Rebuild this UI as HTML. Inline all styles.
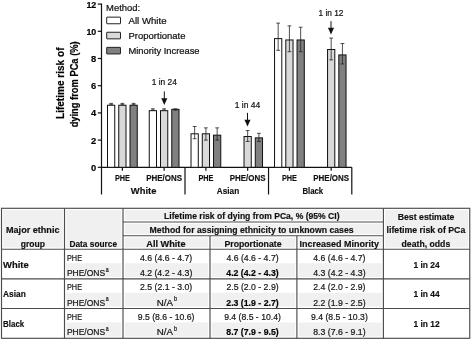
<!DOCTYPE html>
<html><head><meta charset="utf-8"><title>Figure</title>
<style>
html,body{margin:0;padding:0;background:#fff;}
body{width:472px;height:340px;overflow:hidden;}
svg{display:block;will-change:transform;font-family:"Liberation Sans",sans-serif;}
</style></head><body>
<svg width="472" height="340" viewBox="0 0 472 340">
<rect width="472" height="340" fill="#fff"/>
<g stroke="#111" stroke-width="1.2" fill="none">
<line x1="101.5" y1="3.4999999999999996" x2="101.5" y2="194.5"/>
<line x1="101.5" y1="167.3" x2="351.8" y2="167.3"/>
<line x1="97.8" y1="167.3" x2="101.5" y2="167.3"/>
<line x1="97.8" y1="140.1" x2="101.5" y2="140.1"/>
<line x1="97.8" y1="112.9" x2="101.5" y2="112.9"/>
<line x1="97.8" y1="85.7" x2="101.5" y2="85.7"/>
<line x1="97.8" y1="58.5" x2="101.5" y2="58.5"/>
<line x1="97.8" y1="31.3" x2="101.5" y2="31.3"/>
<line x1="97.8" y1="4.1" x2="101.5" y2="4.1"/>
</g>
<text x="96.3" y="170.70000000000002" font-size="9.8" text-anchor="end" font-weight="bold" stroke="#000" stroke-width="0.18" fill="#000" textLength="5.2" lengthAdjust="spacingAndGlyphs">0</text>
<text x="96.3" y="143.5" font-size="9.8" text-anchor="end" font-weight="bold" stroke="#000" stroke-width="0.18" fill="#000" textLength="5.2" lengthAdjust="spacingAndGlyphs">2</text>
<text x="96.3" y="116.30000000000001" font-size="9.8" text-anchor="end" font-weight="bold" stroke="#000" stroke-width="0.18" fill="#000" textLength="5.2" lengthAdjust="spacingAndGlyphs">4</text>
<text x="96.3" y="89.10000000000001" font-size="9.8" text-anchor="end" font-weight="bold" stroke="#000" stroke-width="0.18" fill="#000" textLength="5.2" lengthAdjust="spacingAndGlyphs">6</text>
<text x="96.3" y="61.9" font-size="9.8" text-anchor="end" font-weight="bold" stroke="#000" stroke-width="0.18" fill="#000" textLength="5.2" lengthAdjust="spacingAndGlyphs">8</text>
<text x="96.3" y="34.7" font-size="9.8" text-anchor="end" font-weight="bold" stroke="#000" stroke-width="0.18" fill="#000" textLength="9.9" lengthAdjust="spacingAndGlyphs">10</text>
<text x="96.3" y="7.5" font-size="9.8" text-anchor="end" font-weight="bold" stroke="#000" stroke-width="0.18" fill="#000" textLength="9.9" lengthAdjust="spacingAndGlyphs">12</text>
<rect x="107.5" y="105.24" width="7.25" height="62.06" fill="#ffffff" stroke="#111" stroke-width="1"/>
<path d="M111.12 104.74V103.38M109.22 103.38H113.02000000000001M109.22 104.74H113.02000000000001" stroke="#222" stroke-width="0.8" fill="none"/>
<rect x="118.75" y="105.24" width="7.25" height="62.06" fill="#d9d9d9" stroke="#111" stroke-width="1"/>
<path d="M122.38 104.74V103.38M120.47999999999999 103.38H124.28M120.47999999999999 104.74H124.28" stroke="#222" stroke-width="0.8" fill="none"/>
<rect x="130.0" y="105.24" width="7.25" height="62.06" fill="#808080" stroke="#111" stroke-width="1"/>
<path d="M133.62 104.74V103.38M131.72 103.38H135.52M131.72 104.74H135.52" stroke="#222" stroke-width="0.8" fill="none"/>
<rect x="149.26" y="110.68" width="7.25" height="56.62" fill="#ffffff" stroke="#111" stroke-width="1"/>
<path d="M152.88 110.18V108.82M150.98 108.82H154.78M150.98 110.18H154.78" stroke="#222" stroke-width="0.8" fill="none"/>
<rect x="160.51" y="110.68" width="7.25" height="56.62" fill="#d9d9d9" stroke="#111" stroke-width="1"/>
<path d="M164.13 110.18V108.82M162.23 108.82H166.03M162.23 110.18H166.03" stroke="#222" stroke-width="0.8" fill="none"/>
<rect x="171.76" y="109.32" width="7.25" height="57.98" fill="#808080" stroke="#111" stroke-width="1"/>
<path d="M175.38 110.18V108.82M173.48 108.82H177.28M173.48 110.18H177.28" stroke="#222" stroke-width="0.8" fill="none"/>
<rect x="191.02" y="133.8" width="7.25" height="33.5" fill="#ffffff" stroke="#111" stroke-width="1"/>
<path d="M194.65 138.74V126.5M192.75 126.5H196.55M192.75 138.74H196.55" stroke="#222" stroke-width="0.8" fill="none"/>
<rect x="202.27" y="133.8" width="7.25" height="33.5" fill="#d9d9d9" stroke="#111" stroke-width="1"/>
<path d="M205.9 140.1V127.86M204.0 127.86H207.8M204.0 140.1H207.8" stroke="#222" stroke-width="0.8" fill="none"/>
<rect x="213.52" y="135.16" width="7.25" height="32.14" fill="#808080" stroke="#111" stroke-width="1"/>
<path d="M217.15 140.1V127.86M215.25 127.86H219.05M215.25 140.1H219.05" stroke="#222" stroke-width="0.8" fill="none"/>
<rect x="244.03" y="136.52" width="7.25" height="30.78" fill="#d9d9d9" stroke="#111" stroke-width="1"/>
<path d="M247.66 141.46V130.58M245.76 130.58H249.56M245.76 141.46H249.56" stroke="#222" stroke-width="0.8" fill="none"/>
<rect x="255.28" y="137.88" width="7.25" height="29.42" fill="#808080" stroke="#111" stroke-width="1"/>
<path d="M258.9 141.46V133.3M257.0 133.3H260.79999999999995M257.0 141.46H260.79999999999995" stroke="#222" stroke-width="0.8" fill="none"/>
<rect x="274.54" y="38.6" width="7.25" height="128.7" fill="#ffffff" stroke="#111" stroke-width="1"/>
<path d="M278.17 50.34V23.14M276.27000000000004 23.14H280.07M276.27000000000004 50.34H280.07" stroke="#222" stroke-width="0.8" fill="none"/>
<rect x="285.79" y="39.96" width="7.25" height="127.34" fill="#d9d9d9" stroke="#111" stroke-width="1"/>
<path d="M289.42 51.7V25.86M287.52000000000004 25.86H291.32M287.52000000000004 51.7H291.32" stroke="#222" stroke-width="0.8" fill="none"/>
<rect x="297.04" y="39.96" width="7.25" height="127.34" fill="#808080" stroke="#111" stroke-width="1"/>
<path d="M300.67 51.7V27.22M298.77000000000004 27.22H302.57M298.77000000000004 51.7H302.57" stroke="#222" stroke-width="0.8" fill="none"/>
<rect x="327.55" y="49.48" width="7.25" height="117.82" fill="#d9d9d9" stroke="#111" stroke-width="1"/>
<path d="M331.18 59.86V38.1M329.28000000000003 38.1H333.08M329.28000000000003 59.86H333.08" stroke="#222" stroke-width="0.8" fill="none"/>
<rect x="338.8" y="54.92" width="7.25" height="112.38" fill="#808080" stroke="#111" stroke-width="1"/>
<path d="M342.43 63.94V43.54M340.53000000000003 43.54H344.33M340.53000000000003 63.94H344.33" stroke="#222" stroke-width="0.8" fill="none"/>
<g stroke="#111" stroke-width="1.2" fill="none">
<line x1="122.38" y1="167.3" x2="122.38" y2="170.8"/>
<line x1="164.13" y1="167.3" x2="164.13" y2="170.8"/>
<line x1="205.9" y1="167.3" x2="205.9" y2="170.8"/>
<line x1="247.66" y1="167.3" x2="247.66" y2="170.8"/>
<line x1="289.42" y1="167.3" x2="289.42" y2="170.8"/>
<line x1="331.18" y1="167.3" x2="331.18" y2="170.8"/>
<line x1="185.01" y1="167.3" x2="185.01" y2="194.5"/>
<line x1="268.53" y1="167.3" x2="268.53" y2="194.5"/>
<line x1="351.8" y1="167.3" x2="351.8" y2="194.5"/>
</g>
<text x="122.38" y="181.25" font-size="9.5" text-anchor="middle" font-weight="bold" stroke="#111" stroke-width="0.18" fill="#111" textLength="15" lengthAdjust="spacingAndGlyphs">PHE</text>
<text x="164.13" y="181.25" font-size="9.5" text-anchor="middle" font-weight="bold" stroke="#111" stroke-width="0.18" fill="#111" textLength="35.75" lengthAdjust="spacingAndGlyphs">PHE/ONS</text>
<text x="205.9" y="181.25" font-size="9.5" text-anchor="middle" font-weight="bold" stroke="#111" stroke-width="0.18" fill="#111" textLength="15" lengthAdjust="spacingAndGlyphs">PHE</text>
<text x="247.66" y="181.25" font-size="9.5" text-anchor="middle" font-weight="bold" stroke="#111" stroke-width="0.18" fill="#111" textLength="35.75" lengthAdjust="spacingAndGlyphs">PHE/ONS</text>
<text x="289.42" y="181.25" font-size="9.5" text-anchor="middle" font-weight="bold" stroke="#111" stroke-width="0.18" fill="#111" textLength="15" lengthAdjust="spacingAndGlyphs">PHE</text>
<text x="331.18" y="181.25" font-size="9.5" text-anchor="middle" font-weight="bold" stroke="#111" stroke-width="0.18" fill="#111" textLength="35.75" lengthAdjust="spacingAndGlyphs">PHE/ONS</text>
<text x="143.6" y="193.5" font-size="9.5" text-anchor="middle" font-weight="bold" stroke="#111" stroke-width="0.18" fill="#111" textLength="25.5" lengthAdjust="spacingAndGlyphs">White</text>
<text x="228.0" y="193.5" font-size="9.5" text-anchor="middle" font-weight="bold" stroke="#111" stroke-width="0.18" fill="#111" textLength="22.3" lengthAdjust="spacingAndGlyphs">Asian</text>
<text x="312.8" y="193.5" font-size="9.5" text-anchor="middle" font-weight="bold" stroke="#111" stroke-width="0.18" fill="#111" textLength="20.8" lengthAdjust="spacingAndGlyphs">Black</text>
<text x="0" y="0" font-size="10.4" text-anchor="middle" font-weight="bold" stroke="#000" stroke-width="0.18" fill="#000" textLength="71.5" lengthAdjust="spacingAndGlyphs" transform="translate(63.5 83.25) rotate(-90)">Lifetime risk of</text>
<text x="0" y="0" font-size="10.4" text-anchor="middle" font-weight="bold" stroke="#000" stroke-width="0.18" fill="#000" textLength="86" lengthAdjust="spacingAndGlyphs" transform="translate(77.6 84.35) rotate(-90)">dying from PCa (%)</text>
<text x="106.1" y="10.6" font-size="9.5" text-anchor="start" stroke="#111" stroke-width="0.22" fill="#111" textLength="34" lengthAdjust="spacingAndGlyphs">Method:</text>
<rect x="106.7" y="17.15" width="13.8" height="6.6" rx="0.3" fill="#ffffff" stroke="#222" stroke-width="1"/>
<text x="128.5" y="23.75" font-size="9.5" text-anchor="start" stroke="#111" stroke-width="0.22" fill="#111" textLength="38" lengthAdjust="spacingAndGlyphs">All White</text>
<rect x="106.7" y="32.25" width="13.8" height="6.6" rx="0.3" fill="#d9d9d9" stroke="#222" stroke-width="1"/>
<text x="128.5" y="38.85" font-size="9.5" text-anchor="start" stroke="#111" stroke-width="0.22" fill="#111" textLength="57" lengthAdjust="spacingAndGlyphs">Proportionate</text>
<rect x="106.7" y="47.35" width="13.8" height="6.6" rx="0.3" fill="#808080" stroke="#222" stroke-width="1"/>
<text x="128.5" y="53.95" font-size="9.5" text-anchor="start" stroke="#111" stroke-width="0.22" fill="#111" textLength="71" lengthAdjust="spacingAndGlyphs">Minority Increase</text>
<text x="164.3" y="85.3" font-size="9.5" text-anchor="middle" stroke="#111" stroke-width="0.22" fill="#111" textLength="25.2" lengthAdjust="spacingAndGlyphs">1 in 24</text>
<path d="M164.3 91.4V99.0" stroke="#111" stroke-width="1" fill="none"/>
<path d="M161.25 98.3H167.35000000000002L164.3 105.0Z" fill="#111"/>
<text x="247.5" y="107.8" font-size="9.5" text-anchor="middle" stroke="#111" stroke-width="0.22" fill="#111" textLength="25.5" lengthAdjust="spacingAndGlyphs">1 in 44</text>
<path d="M247.5 112.9V120.5" stroke="#111" stroke-width="1" fill="none"/>
<path d="M244.45 119.8H250.55L247.5 126.5Z" fill="#111"/>
<text x="331.0" y="15.5" font-size="9.5" text-anchor="middle" stroke="#111" stroke-width="0.22" fill="#111" textLength="25" lengthAdjust="spacingAndGlyphs">1 in 12</text>
<path d="M331.0 21.2V28.4" stroke="#111" stroke-width="1" fill="none"/>
<path d="M327.95 27.7H334.05L331.0 34.4Z" fill="#111"/>
<rect x="1.5" y="208.3" width="468.25" height="40.89999999999998" fill="#f0f0f0"/>
<rect x="64.5" y="263.2" width="318.9" height="15.600000000000023" fill="#f0f0f0"/>
<rect x="64.5" y="292.8" width="318.9" height="15.699999999999989" fill="#f0f0f0"/>
<rect x="64.5" y="322.5" width="318.9" height="15.800000000000011" fill="#f0f0f0"/>
<g stroke="#fff" stroke-width="3.4" fill="none">
<rect x="1.5" y="208.3" width="468.25" height="130.0"/>
<line x1="64.5" y1="208.3" x2="64.5" y2="338.3"/>
<line x1="123" y1="208.3" x2="123" y2="338.3"/>
<line x1="383.4" y1="208.3" x2="383.4" y2="338.3"/>
<line x1="210" y1="235.75" x2="210" y2="338.3"/>
<line x1="296.9" y1="235.75" x2="296.9" y2="338.3"/>
<line x1="123" y1="222" x2="383.4" y2="222"/>
<line x1="123" y1="235.75" x2="383.4" y2="235.75"/>
<line x1="1.5" y1="249.2" x2="469.75" y2="249.2"/>
<line x1="1.5" y1="278.8" x2="469.75" y2="278.8"/>
<line x1="1.5" y1="308.5" x2="469.75" y2="308.5"/>
</g>
<g stroke="#4c4c4c" stroke-width="1.15" fill="none">
<rect x="1.5" y="208.3" width="468.25" height="130.0"/>
<line x1="64.5" y1="208.3" x2="64.5" y2="338.3"/>
<line x1="123" y1="208.3" x2="123" y2="338.3"/>
<line x1="383.4" y1="208.3" x2="383.4" y2="338.3"/>
<line x1="210" y1="235.75" x2="210" y2="338.3"/>
<line x1="296.9" y1="235.75" x2="296.9" y2="338.3"/>
<line x1="123" y1="222" x2="383.4" y2="222"/>
<line x1="123" y1="235.75" x2="383.4" y2="235.75"/>
<line x1="1.5" y1="249.2" x2="469.75" y2="249.2"/>
<line x1="1.5" y1="278.8" x2="469.75" y2="278.8"/>
<line x1="1.5" y1="308.5" x2="469.75" y2="308.5"/>
</g>
<text x="32.75" y="233.2" font-size="9.5" text-anchor="middle" font-weight="bold" stroke="#111" stroke-width="0.18" fill="#111" textLength="53.5" lengthAdjust="spacingAndGlyphs">Major ethnic</text>
<text x="32.9" y="247" font-size="9.5" text-anchor="middle" font-weight="bold" stroke="#111" stroke-width="0.18" fill="#111" textLength="24.25" lengthAdjust="spacingAndGlyphs">group</text>
<text x="69.5" y="247" font-size="9.5" text-anchor="start" font-weight="bold" stroke="#111" stroke-width="0.18" fill="#111" textLength="47.5" lengthAdjust="spacingAndGlyphs">Data source</text>
<text x="251.8" y="219.3" font-size="9.5" text-anchor="middle" font-weight="bold" stroke="#111" stroke-width="0.18" fill="#111" textLength="175.4" lengthAdjust="spacingAndGlyphs">Lifetime risk of dying from PCa, % (95% CI)</text>
<text x="251.6" y="233.25" font-size="9.5" text-anchor="middle" font-weight="bold" stroke="#111" stroke-width="0.18" fill="#111" textLength="204" lengthAdjust="spacingAndGlyphs">Method for assigning ethnicity to unknown cases</text>
<text x="165.9" y="247" font-size="9.5" text-anchor="middle" font-weight="bold" stroke="#111" stroke-width="0.18" fill="#111" textLength="39.25" lengthAdjust="spacingAndGlyphs">All White</text>
<text x="253" y="247" font-size="9.5" text-anchor="middle" font-weight="bold" stroke="#111" stroke-width="0.18" fill="#111" textLength="57" lengthAdjust="spacingAndGlyphs">Proportionate</text>
<text x="339.3" y="247" font-size="9.5" text-anchor="middle" font-weight="bold" stroke="#111" stroke-width="0.18" fill="#111" textLength="79.4" lengthAdjust="spacingAndGlyphs">Increased Minority</text>
<text x="426.1" y="219.5" font-size="9.5" text-anchor="middle" font-weight="bold" stroke="#111" stroke-width="0.18" fill="#111" textLength="56.75" lengthAdjust="spacingAndGlyphs">Best estimate</text>
<text x="425.9" y="233.25" font-size="9.5" text-anchor="middle" font-weight="bold" stroke="#111" stroke-width="0.18" fill="#111" textLength="78.75" lengthAdjust="spacingAndGlyphs">lifetime risk of PCa</text>
<text x="425.9" y="247" font-size="9.5" text-anchor="middle" font-weight="bold" stroke="#111" stroke-width="0.18" fill="#111" textLength="48.75" lengthAdjust="spacingAndGlyphs">death, odds</text>
<text x="3" y="267.7" font-size="9.5" text-anchor="start" font-weight="bold" stroke="#111" stroke-width="0.18" fill="#111" textLength="25.75" lengthAdjust="spacingAndGlyphs">White</text>
<text x="426.6" y="267.7" font-size="9.5" text-anchor="middle" font-weight="bold" stroke="#111" stroke-width="0.18" fill="#111" textLength="26.25" lengthAdjust="spacingAndGlyphs">1 in 24</text>
<text x="67" y="260.7" font-size="9.5" text-anchor="start" stroke="#161616" stroke-width="0.22" fill="#161616" textLength="15" lengthAdjust="spacingAndGlyphs">PHE</text>
<text x="66.9" y="276.1" font-size="9.5" text-anchor="start" stroke="#161616" stroke-width="0.22" fill="#161616" textLength="38.2" lengthAdjust="spacingAndGlyphs">PHE/ONS</text>
<text x="105.8" y="271.5" font-size="6.9" text-anchor="start" stroke="#161616" stroke-width="0.22" fill="#161616" textLength="2.9" lengthAdjust="spacingAndGlyphs">a</text>
<text x="166.1" y="260.7" font-size="9.5" text-anchor="middle" stroke="#161616" stroke-width="0.22" fill="#161616" textLength="52.25" lengthAdjust="spacingAndGlyphs">4.6 (4.6 - 4.7)</text>
<text x="166.1" y="276.1" font-size="9.5" text-anchor="middle" stroke="#161616" stroke-width="0.22" fill="#161616" textLength="52.4" lengthAdjust="spacingAndGlyphs">4.2 (4.2 - 4.3)</text>
<text x="252.5" y="260.7" font-size="9.5" text-anchor="middle" stroke="#161616" stroke-width="0.22" fill="#161616" textLength="52.25" lengthAdjust="spacingAndGlyphs">4.6 (4.6 - 4.7)</text>
<text x="252.5" y="276.1" font-size="9.5" text-anchor="middle" font-weight="bold" stroke="#000" stroke-width="0.18" fill="#000" textLength="52.4" lengthAdjust="spacingAndGlyphs">4.2 (4.2 - 4.3)</text>
<text x="339.4" y="260.7" font-size="9.5" text-anchor="middle" stroke="#161616" stroke-width="0.22" fill="#161616" textLength="52.25" lengthAdjust="spacingAndGlyphs">4.6 (4.6 - 4.7)</text>
<text x="339.4" y="276.1" font-size="9.5" text-anchor="middle" stroke="#161616" stroke-width="0.22" fill="#161616" textLength="52.4" lengthAdjust="spacingAndGlyphs">4.3 (4.2 - 4.3)</text>
<text x="3" y="297.2" font-size="9.5" text-anchor="start" font-weight="bold" stroke="#111" stroke-width="0.18" fill="#111" textLength="22.75" lengthAdjust="spacingAndGlyphs">Asian</text>
<text x="426.6" y="297.2" font-size="9.5" text-anchor="middle" font-weight="bold" stroke="#111" stroke-width="0.18" fill="#111" textLength="26.25" lengthAdjust="spacingAndGlyphs">1 in 44</text>
<text x="67" y="290.1" font-size="9.5" text-anchor="start" stroke="#161616" stroke-width="0.22" fill="#161616" textLength="15" lengthAdjust="spacingAndGlyphs">PHE</text>
<text x="66.9" y="305.6" font-size="9.5" text-anchor="start" stroke="#161616" stroke-width="0.22" fill="#161616" textLength="38.2" lengthAdjust="spacingAndGlyphs">PHE/ONS</text>
<text x="105.8" y="301.0" font-size="6.9" text-anchor="start" stroke="#161616" stroke-width="0.22" fill="#161616" textLength="2.9" lengthAdjust="spacingAndGlyphs">a</text>
<text x="166.1" y="290.1" font-size="9.5" text-anchor="middle" stroke="#161616" stroke-width="0.22" fill="#161616" textLength="52.25" lengthAdjust="spacingAndGlyphs">2.5 (2.1 - 3.0)</text>
<text x="156.8" y="305.6" font-size="9.5" text-anchor="start" stroke="#161616" stroke-width="0.22" fill="#161616" textLength="16.2" lengthAdjust="spacingAndGlyphs">N/A</text>
<text x="174.1" y="301.0" font-size="7.3" text-anchor="start" stroke="#161616" stroke-width="0.22" fill="#161616" textLength="3.2" lengthAdjust="spacingAndGlyphs">b</text>
<text x="252.5" y="290.1" font-size="9.5" text-anchor="middle" stroke="#161616" stroke-width="0.22" fill="#161616" textLength="52.25" lengthAdjust="spacingAndGlyphs">2.5 (2.0 - 2.9)</text>
<text x="252.5" y="305.6" font-size="9.5" text-anchor="middle" font-weight="bold" stroke="#000" stroke-width="0.18" fill="#000" textLength="52.4" lengthAdjust="spacingAndGlyphs">2.3 (1.9 - 2.7)</text>
<text x="339.4" y="290.1" font-size="9.5" text-anchor="middle" stroke="#161616" stroke-width="0.22" fill="#161616" textLength="52.25" lengthAdjust="spacingAndGlyphs">2.4 (2.0 - 2.9)</text>
<text x="339.4" y="305.6" font-size="9.5" text-anchor="middle" stroke="#161616" stroke-width="0.22" fill="#161616" textLength="52.4" lengthAdjust="spacingAndGlyphs">2.2 (1.9 - 2.5)</text>
<text x="3" y="326.8" font-size="9.5" text-anchor="start" font-weight="bold" stroke="#111" stroke-width="0.18" fill="#111" textLength="21.25" lengthAdjust="spacingAndGlyphs">Black</text>
<text x="426.6" y="326.8" font-size="9.5" text-anchor="middle" font-weight="bold" stroke="#111" stroke-width="0.18" fill="#111" textLength="26.25" lengthAdjust="spacingAndGlyphs">1 in 12</text>
<text x="67" y="319.5" font-size="9.5" text-anchor="start" stroke="#161616" stroke-width="0.22" fill="#161616" textLength="15" lengthAdjust="spacingAndGlyphs">PHE</text>
<text x="66.9" y="335.4" font-size="9.5" text-anchor="start" stroke="#161616" stroke-width="0.22" fill="#161616" textLength="38.2" lengthAdjust="spacingAndGlyphs">PHE/ONS</text>
<text x="105.8" y="330.8" font-size="6.9" text-anchor="start" stroke="#161616" stroke-width="0.22" fill="#161616" textLength="2.9" lengthAdjust="spacingAndGlyphs">a</text>
<text x="166.1" y="319.5" font-size="9.5" text-anchor="middle" stroke="#161616" stroke-width="0.22" fill="#161616" textLength="56.75" lengthAdjust="spacingAndGlyphs">9.5 (8.6 - 10.6)</text>
<text x="156.8" y="335.4" font-size="9.5" text-anchor="start" stroke="#161616" stroke-width="0.22" fill="#161616" textLength="16.2" lengthAdjust="spacingAndGlyphs">N/A</text>
<text x="174.1" y="330.8" font-size="7.3" text-anchor="start" stroke="#161616" stroke-width="0.22" fill="#161616" textLength="3.2" lengthAdjust="spacingAndGlyphs">b</text>
<text x="252.5" y="319.5" font-size="9.5" text-anchor="middle" stroke="#161616" stroke-width="0.22" fill="#161616" textLength="56.75" lengthAdjust="spacingAndGlyphs">9.4 (8.5 - 10.4)</text>
<text x="252.5" y="335.4" font-size="9.5" text-anchor="middle" font-weight="bold" stroke="#000" stroke-width="0.18" fill="#000" textLength="52.4" lengthAdjust="spacingAndGlyphs">8.7 (7.9 - 9.5)</text>
<text x="339.4" y="319.5" font-size="9.5" text-anchor="middle" stroke="#161616" stroke-width="0.22" fill="#161616" textLength="56.75" lengthAdjust="spacingAndGlyphs">9.4 (8.5 - 10.3)</text>
<text x="339.4" y="335.4" font-size="9.5" text-anchor="middle" stroke="#161616" stroke-width="0.22" fill="#161616" textLength="52.4" lengthAdjust="spacingAndGlyphs">8.3 (7.6 - 9.1)</text>
</svg>
</body></html>
